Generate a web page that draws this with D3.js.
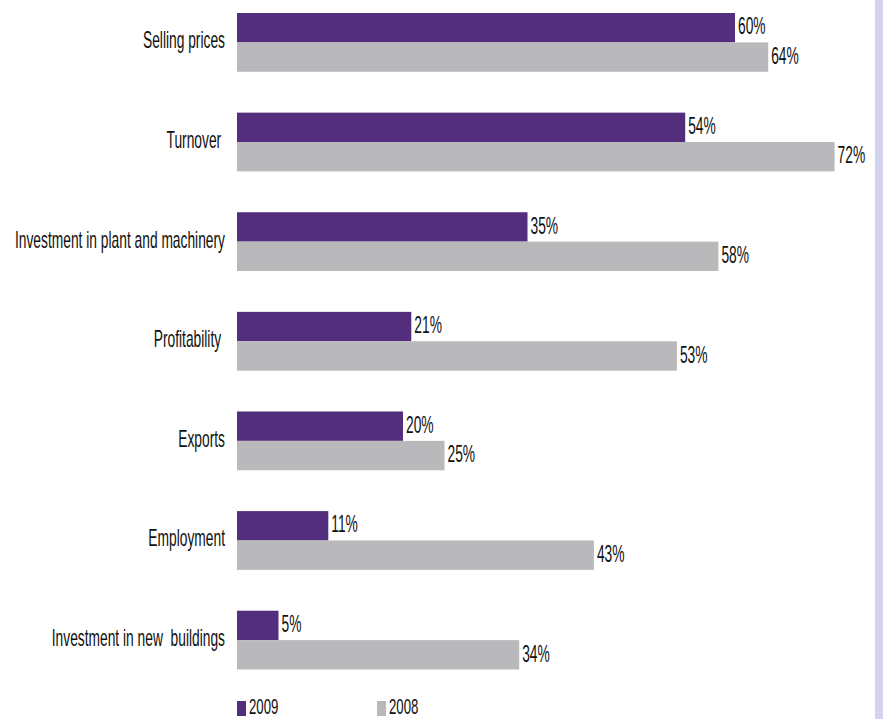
<!DOCTYPE html>
<html>
<head>
<meta charset="utf-8">
<script src="https://cdn.jsdelivr.net/npm/d3@7"></script>
<style>
  html, body { margin: 0; padding: 0; background: #fff; }
  svg { display: block; }
  text { font-family: "Liberation Sans", Arial, sans-serif; fill: #111; white-space: pre; }
</style>
</head>
<body>
<svg id="viz"></svg>
<script>
// data
var categories = ['Selling prices', 'Turnover ', 'Investment in plant and machinery',
                  'Profitability ', 'Exports', 'Employment', 'Investment in new  buildings'];
var series = ['2009', '2008'];
var values2009 = [60, 54, 35, 21, 20, 11, 5];
var values2008 = [64, 72, 58, 53, 25, 43, 34];
var colors = ['#522e7d', '#b9b9bb'];

var width = 883;
var height = 719;
var fontSize = 23;
var squeeze = 0.6; // the source font is very condensed

var svg = d3.select('#viz')
            .attr('width', width)
            .attr('height', height);

// lavender strip down the right edge
svg.append('rect')
   .attr('x', 875).attr('y', 0)
   .attr('width', width - 875).attr('height', height)
   .attr('fill', '#d2d2f1');

var rows = categories.map(function(c, i) {
    return { cat: c, vals: [values2009[i], values2008[i]] };
});

var yScale = d3.scaleBand()
               .domain(categories)
               .range([13, 669.5])
               .paddingInner(0.41)
               .paddingOuter(0);

var ySub = d3.scaleBand()
             .domain(series)
             .range([0, yScale.bandwidth()]);

var xScale = d3.scaleLinear()
               .domain([0, 100])
               .range([237, 1067]);

var group = svg.selectAll('g.row')
               .data(rows)
               .enter()
               .append('g')
               .attr('class', 'row')
               .attr('transform', function(d) { return 'translate(0,' + yScale(d.cat) + ')'; });

// category labels, right aligned against the bars
group.append('text')
     .attr('text-anchor', 'end')
     .attr('font-size', fontSize)
     .attr('transform', function() {
         return 'translate(225,' + (yScale.bandwidth() / 2 + 6) + ') scale(' + squeeze + ',1)';
     })
     .text(function(d) { return d.cat; });

var bars = group.selectAll('g.bar')
                .data(function(d) {
                    return series.map(function(s, j) { return { s: s, v: d.vals[j], j: j }; });
                })
                .enter()
                .append('g')
                .attr('class', 'bar');

bars.append('rect')
    .attr('x', xScale(0))
    .attr('y', function(d) { return ySub(d.s); })
    .attr('width', function(d) { return xScale(d.v) - xScale(0); })
    .attr('height', ySub.bandwidth())
    .attr('fill', function(d) { return colors[d.j]; });

bars.append('text')
    .attr('font-size', fontSize)
    .attr('transform', function(d) {
        return 'translate(' + (xScale(d.v) + 3) + ',' + (ySub(d.s) + ySub.bandwidth() - 8) + ') scale(' + squeeze + ',1)';
    })
    .text(function(d) { return d.v + '%'; });

// legend at the bottom
var legendX = [237, 377];
var legend = svg.selectAll('g.legend')
                .data(series)
                .enter()
                .append('g')
                .attr('class', 'legend')
                .attr('transform', function(d, i) { return 'translate(' + legendX[i] + ',0)'; });

legend.append('rect')
      .attr('x', 0).attr('y', 701)
      .attr('width', 9).attr('height', 15)
      .attr('fill', function(d, i) { return colors[i]; });

legend.append('text')
      .attr('font-size', 22)
      .attr('transform', 'translate(12,714) scale(' + squeeze + ',1)')
      .text(function(d) { return d; });
</script>
</body>
</html>
